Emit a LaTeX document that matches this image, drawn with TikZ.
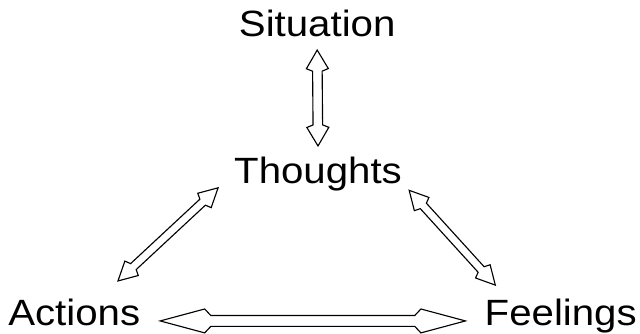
\documentclass[tikz,border=0pt]{standalone}
\usepackage{fontspec}
\setmainfont{Liberation Sans}
\usetikzlibrary{calc}

\tikzset{hollow/.style={draw=black,fill=white,line width=0.8pt,line join=miter},
  word/.style={inner sep=0pt,xscale=1.1,font=\fontsize{26}{30}\selectfont}}

\newcommand\twoway[5]{%
  \path let \p1=(#1), \p2=(#2), \n1={atan2(\y2-\y1,\x2-\x1)}, \n2={veclen(\x2-\x1,\y2-\y1)} in
    \pgfextra{\xdef\twx{\x1}\xdef\twy{\y1}\xdef\twang{\n1}\xdef\twlen{\n2}};
  \begin{scope}[shift={(\twx,\twy)},rotate=\twang]
  \draw[hollow] (0,0) -- (0.88*#5,#4) -- (#5,#3) -- (\twlen-#5,#3) -- (\twlen-0.88*#5,#4) -- (\twlen,0)
    -- (\twlen-0.88*#5,-#4) -- (\twlen-#5,-#3) -- (#5,-#3) -- (0.88*#5,-#4) -- cycle;
  \end{scope}}

\begin{document}
\begin{tikzpicture}
\useasboundingbox (0,0) rectangle (16,8.35);
\node[word,anchor=base] (sit) at (7.93,7.43) {Situation};
\node[word,anchor=base] (tho) at (7.95,3.75) {Thoughts};
\node[word,anchor=base west] (act) at (0.2,0.2) {Actions};
\node[word,anchor=base east] (fee) at (15.925,0.2) {Feelings};
\twoway{[yshift=-9pt]sit.south}{[yshift=8pt]tho.north}{3.4pt}{7.8pt}{15pt}
\twoway{[xshift=-16pt,yshift=13pt]act.north east}{[xshift=-11pt,yshift=-2.5pt]tho.base west}{2.9pt}{7pt}{15pt}
\twoway{[xshift=5pt,yshift=-4.5pt]tho.base east}{[xshift=7.8pt,yshift=10pt]fee.north west}{2.9pt}{7pt}{15pt}
\twoway{[xshift=14pt,yshift=3.6pt]act.base east}{[xshift=-13.5pt,yshift=3.6pt]fee.base west}{3.9pt}{8.5pt}{36pt}
\end{tikzpicture}
\end{document}
